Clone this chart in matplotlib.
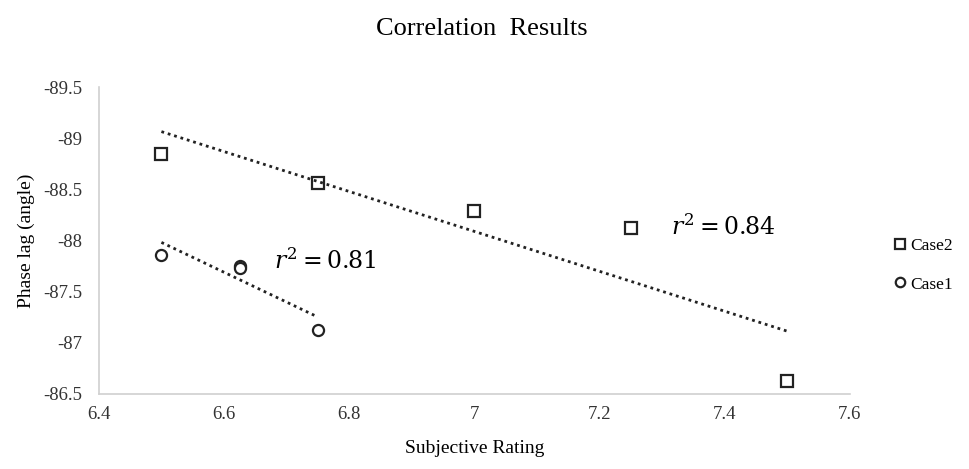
import numpy as np
import matplotlib.pyplot as plt

plt.rcParams['font.family'] = ['Liberation Serif', 'DejaVu Serif']
plt.rcParams['mathtext.fontset'] = 'dejavuserif'

case2_x = [6.5, 6.75, 7.0, 7.25, 7.5]
case2_y = [-88.85, -88.56, -88.29, -88.12, -86.63]
case1_x = [6.5, 6.625, 6.625, 6.75]
case1_y = [-87.86, -87.75, -87.73, -87.13]

fig = plt.figure(figsize=(9.69, 4.69), dpi=100)
ax = fig.add_axes([0.102, 0.160, 0.775, 0.654])

ax.plot(case2_x, case2_y, 's', ms=9, mfc='white', mec='#222222', mew=1.6, linestyle='none', label='Case2')
ax.plot(case1_x, case1_y, 'o', ms=8, mfc='white', mec='#222222', mew=1.6, linestyle='none', label='Case1')

# linear trendlines
for xs, ys in [(case2_x, case2_y), (case1_x, case1_y)]:
    k, b = np.polyfit(xs, ys, 1)
    xx = np.array([min(xs), max(xs)])
    ax.plot(xx, k * xx + b, linestyle=(0, (1, 1.4)), color='#222222', lw=2)

ax.text(6.68, -87.72, r'$r^2 = 0.81$', fontsize=17)
ax.text(7.315, -88.05, r'$r^2 = 0.84$', fontsize=17)

ax.set_xlim(6.4, 7.6)
ax.set_ylim(-86.5, -89.5)
ax.set_xticks([6.4, 6.6, 6.8, 7.0, 7.2, 7.4, 7.6])
ax.set_xticklabels(['6.4', '6.6', '6.8', '7', '7.2', '7.4', '7.6'])
ax.set_yticks([-89.5, -89, -88.5, -88, -87.5, -87, -86.5])
ax.set_yticklabels(['-89.5', '-89', '-88.5', '-88', '-87.5', '-87', '-86.5'])
ax.tick_params(length=0, labelsize=13.5, colors='#333333')
ax.tick_params(axis='x', pad=9)
ax.tick_params(axis='y', pad=12)
for s in ['top', 'right']:
    ax.spines[s].set_visible(False)
for s in ['left', 'bottom']:
    ax.spines[s].set_color('#d0d0d0')
    ax.spines[s].set_linewidth(1.2)

ax.set_xlabel('Subjective Rating', fontsize=14, labelpad=12)
ax.set_ylabel('Phase lag (angle)', fontsize=14, labelpad=6)
fig.suptitle('Correlation  Results', fontsize=19, x=0.497, y=0.962)

ax.legend(loc='center left', bbox_to_anchor=(1.035, 0.42), frameon=False,
          handletextpad=0.05, handlelength=1, labelspacing=1.3, fontsize=12.5,
          markerscale=0.85)

fig.savefig('out.png', dpi=100)
